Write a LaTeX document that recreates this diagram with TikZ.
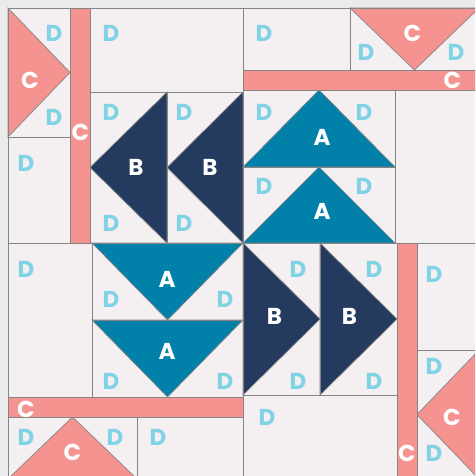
\documentclass[tikz,border=0pt]{standalone}
\usepackage{fontspec}
\setmainfont{Poppins}
\definecolor{bg}{HTML}{EBEBEB}
\definecolor{fab}{HTML}{F4EFF1}
\definecolor{lin}{HTML}{858585}
\definecolor{cpink}{HTML}{F59391}
\definecolor{ateal}{HTML}{0180A9}
\definecolor{bnavy}{HTML}{253A5F}
\definecolor{dblue}{HTML}{80D2E5}
\tikzset{
  blk/.style={draw=lin, line width=0.9pt},
  tri/.style={draw=lin, line width=0.7pt, line join=miter},
  ctri/.style={tri, fill=cpink},
  atri/.style={tri, fill=ateal},
  btri/.style={tri, fill=bnavy},
  strip/.style={blk, fill=cpink},
  lab/.style={font=\fontsize{23}{23}\selectfont\bfseries, inner sep=0pt, text height=16pt, text depth=0pt, anchor=center},
  dl/.style={lab, text=dblue},
  wl/.style={lab, text=white},
}
\begin{document}
\begin{tikzpicture}[x=1pt,y=-1pt]
\useasboundingbox (0,0) rectangle (475,476);
\clip (0,0) rectangle (475,476);
\fill[bg] (0,0) rectangle (475,476);
\fill[fab] (8,8) rectangle (479,479);

% triangles
\draw[ctri] (8,8) -- (70,72.5) -- (8,137) -- cycle;
\draw[btri] (167,92) -- (90,167.5) -- (167,243) -- cycle;
\draw[btri] (243,92) -- (167,167.5) -- (243,243) -- cycle;
\draw[ctri] (350,8) -- (414.5,70) -- (479,8) -- cycle;
\draw[atri] (243,167) -- (319,90) -- (395,167) -- cycle;
\draw[atri] (243,243) -- (319,167) -- (395,243) -- cycle;
\draw[btri] (243,243) -- (320,319) -- (243,395) -- cycle;
\draw[btri] (320,243) -- (397,319) -- (320,395) -- cycle;
\draw[ctri] (479,350) -- (417,414.5) -- (479,479) -- cycle;
\draw[atri] (92,243) -- (167.5,320) -- (243,243) -- cycle;
\draw[atri] (92,320) -- (167.5,397) -- (243,320) -- cycle;
\draw[ctri] (8,479) -- (72.5,417) -- (137,479) -- cycle;

% strips
\draw[strip] (70,8) rectangle (90,243);
\draw[strip] (243,70) rectangle (479,90);
\draw[strip] (397,243) rectangle (417,479);
\draw[strip] (8,397) rectangle (243,417);

% blocks
\draw[blk] (8,8) rectangle (70,137);
\draw[blk] (8,137) rectangle (70,243);
\draw[blk] (90,8) rectangle (243,92);
\draw[blk] (90,92) rectangle (167,243);
\draw[blk] (167,92) rectangle (243,243);
\draw[blk] (243,8) rectangle (350,70);
\draw[blk] (350,8) rectangle (479,70);
\draw[blk] (243,90) rectangle (395,167);
\draw[blk] (243,167) rectangle (395,243);
\draw[blk] (395,90) rectangle (479,243);
\draw[blk] (243,243) rectangle (320,395);
\draw[blk] (320,243) rectangle (397,395);
\draw[blk] (243,395) rectangle (397,479);
\draw[blk] (417,243) rectangle (479,350);
\draw[blk] (417,350) rectangle (479,479);
\draw[blk] (8,243) rectangle (92,397);
\draw[blk] (92,243) rectangle (243,320);
\draw[blk] (92,320) rectangle (243,397);
\draw[blk] (8,417) rectangle (137,479);
\draw[blk] (137,417) rectangle (243,479);

% D labels
\node[dl] (d1) at (54,34) {D};
\node[dl] (d2) at (54,117) {D};
\node[dl] (d3) at (26,163) {D};
\node[dl] (d4) at (111,34) {D};
\node[dl] (d5) at (111,112.5) {D};
\node[dl] (d6) at (184,112.5) {D};
\node[dl] (d7) at (111,223) {D};
\node[dl] (d8) at (184,223) {D};
\node[dl] (d9) at (264,34) {D};
\node[dl] (d10) at (366,53) {D};
\node[dl] (d11) at (456,53) {D};
\node[dl] (d12) at (264,113) {D};
\node[dl] (d13) at (364,113) {D};
\node[dl] (d14) at (264,186) {D};
\node[dl] (d15) at (364,186) {D};
\node[dl] (d16) at (26,269) {D};
\node[dl] (d17) at (111,299) {D};
\node[dl] (d18) at (225,299) {D};
\node[dl] (d19) at (111,381) {D};
\node[dl] (d20) at (225,381) {D};
\node[dl] (d21) at (26,437) {D};
\node[dl] (d22) at (115,437) {D};
\node[dl] (d23) at (158,437) {D};
\node[dl] (d24) at (298,269) {D};
\node[dl] (d25) at (374,269) {D};
\node[dl] (d26) at (298,381) {D};
\node[dl] (d27) at (374,381) {D};
\node[dl] (d28) at (267,417) {D};
\node[dl] (d29) at (434,274) {D};
\node[dl] (d30) at (434,366) {D};
\node[dl] (d31) at (434,453) {D};

% A, B, C labels
\node[wl] (a1) at (322,137.5) {A};
\node[wl] (a2) at (322,211) {A};
\node[wl] (a3) at (167,279) {A};
\node[wl] (a4) at (167,351) {A};
\node[wl] (b1) at (136,167.5) {B};
\node[wl] (b2) at (210,167.5) {B};
\node[wl] (b3) at (274.5,316) {B};
\node[wl] (b4) at (349.5,316) {B};
\node[wl] (c1) at (30,81) {C};
\node[wl] (c2) at (80.5,132.5) {C};
\node[wl] (c3) at (412.5,34) {C};
\node[wl] (c4) at (452.5,81) {C};
\node[wl] (c5) at (26,409) {C};
\node[wl] (c6) at (72.5,452.5) {C};
\node[wl] (c7) at (407,453) {C};
\node[wl] (c8) at (452,417) {C};
\end{tikzpicture}
\end{document}
